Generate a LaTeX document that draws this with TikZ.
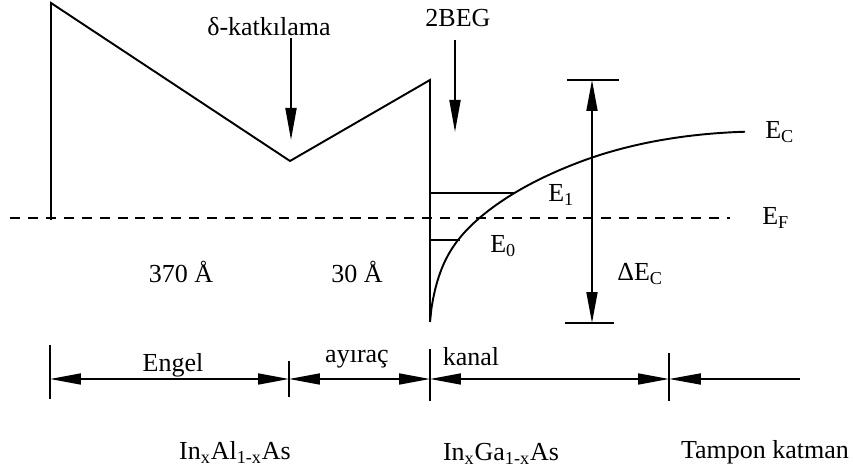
\documentclass[tikz,border=0pt]{standalone}
\usepackage{fontspec}
\setmainfont{Liberation Serif}
\usepackage{tikz}
\usetikzlibrary{arrows.meta}

\begin{document}
\begin{tikzpicture}[
    x=0.02cm, y=-0.02cm,
    lbl/.style={inner sep=0pt, font=\fontsize{14.8}{17}\selectfont},
    band/.style={line width=1.1pt},
    line/.style={-{Triangle[length=0.64cm, width=0.22cm]}, line width=1.1pt},
    dim/.style={{Triangle[length=0.62cm, width=0.22cm]}-{Triangle[length=0.62cm, width=0.22cm]}, line width=1pt},
    tick/.style={line width=1pt},
    fermi/.style={line width=1.1pt, dash pattern=on 5.7pt off 4.5pt}
]
\useasboundingbox (0,0) rectangle (853,472);

% conduction band edge
\coordinate (b0) at (51,220);
\coordinate (b1) at (51,3);
\coordinate (dmin) at (290,161);
\coordinate (sp) at (430,80);
\coordinate (cb) at (430,322);
\draw[band] (b0) -- (b1) -- (dmin) -- (sp) -- (cb);
\draw[band, line join=round] plot[domain=0:315, samples=220, variable=\t]
  ({430+\t}, {322 - (61.5*ln(1+\t/12) + 6*sqrt(\t)*exp(-\t/20) - (\t>150)*13*((\t-150)/165)^2)});

% Fermi level and subbands
\coordinate (fl) at (10,218);
\coordinate (fr) at (730,218);
\draw[fermi] (fl) -- (fr);
\draw[band] (430,193) -- (515,193);
\draw[band] (430,240) -- (460,240);

% labels
\node[lbl, anchor=base] (dk) at (269,36) {δ-katkılama};
\node[lbl, anchor=base] (beg) at (458,27) {2BEG};
\node[lbl, anchor=base west] (ec) at (765,139) {E\textsubscript{C}};
\node[lbl, anchor=base west] (ef) at (762,225) {E\textsubscript{F}};
\node[lbl, anchor=base west] (e1) at (548,202) {E\textsubscript{1}};
\node[lbl, anchor=base west] (e0) at (490,253) {E\textsubscript{0}};
\node[lbl, anchor=base west] (dec) at (617,281) {ΔE\textsubscript{C}};
\node[lbl, anchor=base] (w1) at (181,283) {370 Å};
\node[lbl, anchor=base] (w2) at (357,283) {30 Å};

% arrows
\coordinate (dkA) at (291,38);
\coordinate (dkB) at (291,140);
\draw[line] (dkA) -- (dkB);
\coordinate (begA) at (455,40);
\coordinate (begB) at (455,132);
\draw[line] (begA) -- (begB);

% band offset
\coordinate (dtop) at (592,80);
\coordinate (dbot) at (592,323);
\draw[dim] (dtop) -- (dbot);
\draw[tick] (567,80) -- (619,80);
\draw[tick] (565,323) -- (614,323);

% layer widths
\coordinate (t1) at (50,379);
\coordinate (t2) at (289,379);
\coordinate (t3) at (430,379);
\coordinate (t4) at (669,379);
\coordinate (tend) at (800,379);
\draw[tick] (50,345) -- (50,399);
\draw[tick] (289,361) -- (289,397);
\draw[tick] (430,349) -- (430,401);
\draw[tick] (669,353) -- (669,401);
\draw[dim] (t1) -- (t2);
\draw[dim] (t2) -- (t3);
\draw[dim] (t3) -- (t4);
\draw[line] (tend) -- (t4);

\node[lbl, anchor=base] (engel) at (173,372) {Engel};
\node[lbl, anchor=base] (ayr) at (357,363) {ayıraç};
\node[lbl, anchor=base] (kanal) at (471,366) {kanal};
\node[lbl, anchor=base] (inal) at (235,460) {In\textsubscript{x}Al\textsubscript{1-x}As};
\node[lbl, anchor=base] (inga) at (501,461) {In\textsubscript{x}Ga\textsubscript{1-x}As};
\node[lbl, anchor=base] (tampon) at (765,459) {Tampon katman};
\end{tikzpicture}
\end{document}
